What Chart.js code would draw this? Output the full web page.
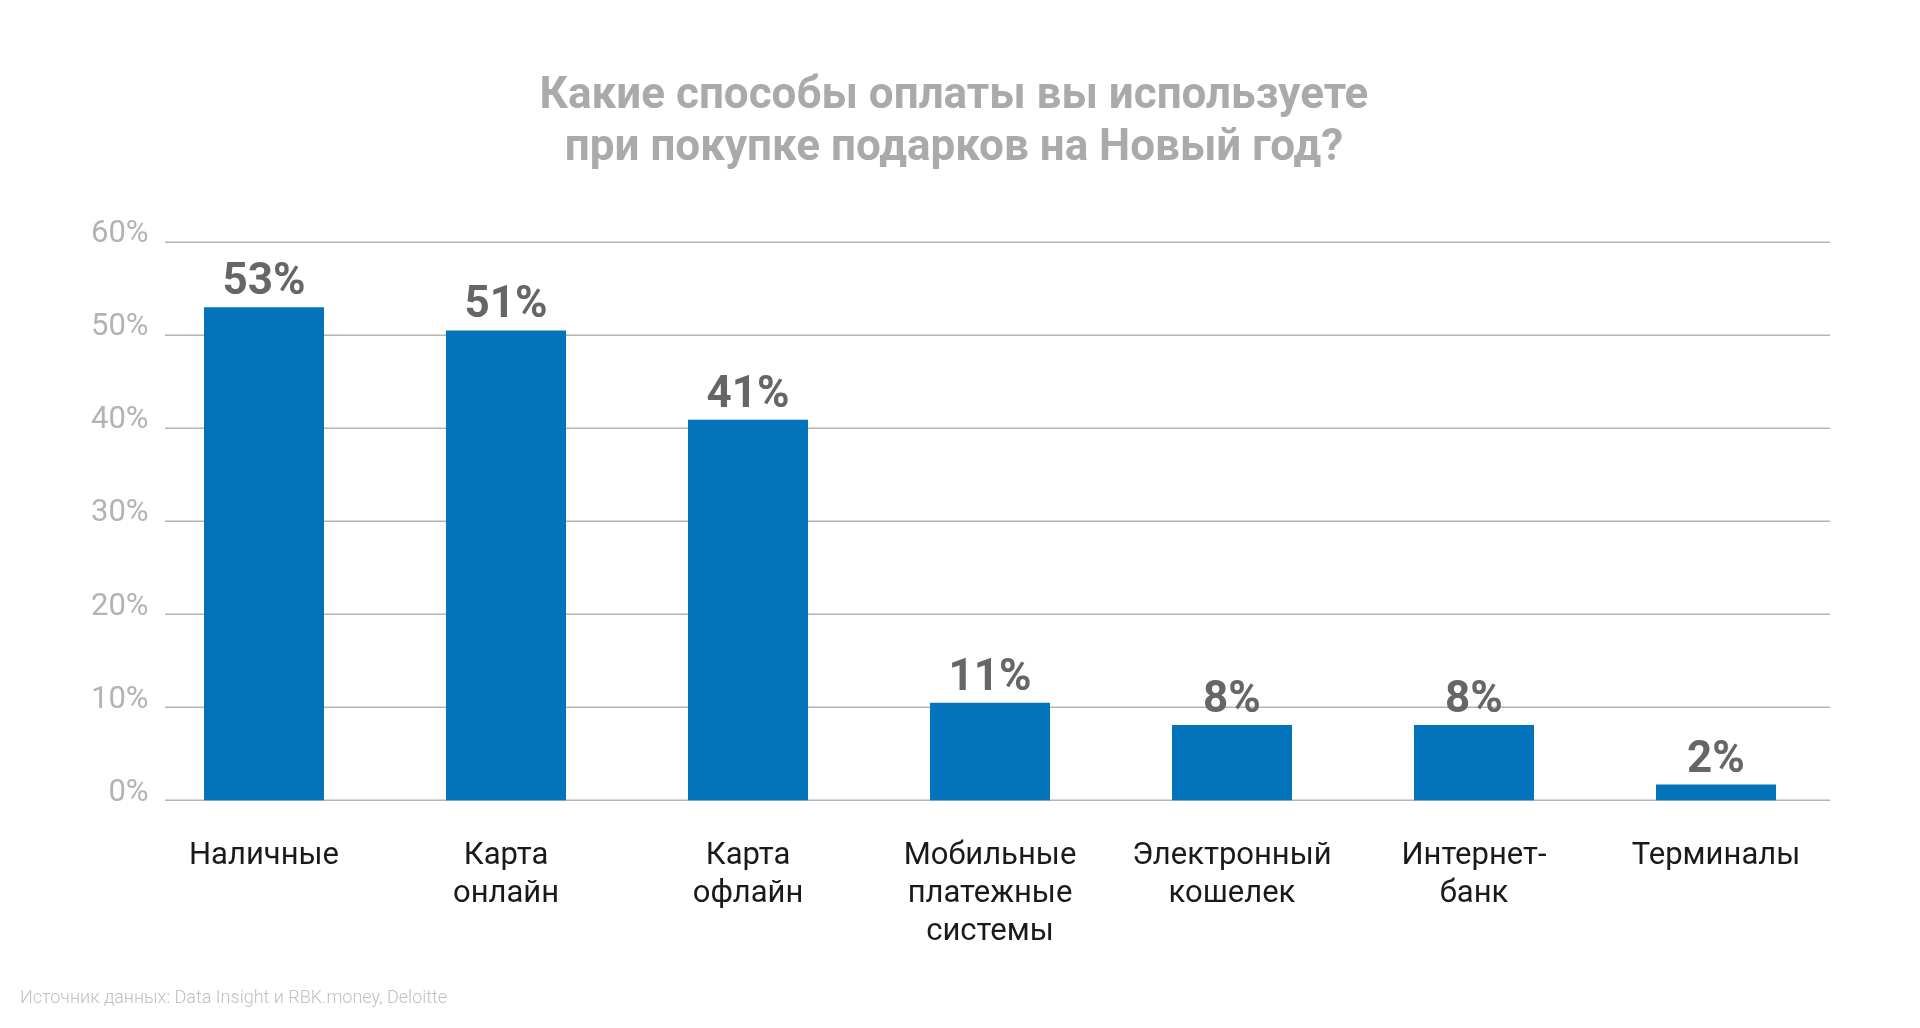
<!DOCTYPE HTML>
<html>
<head>
  <meta charset="utf-8">
  <script src="https://cdn.jsdelivr.net/npm/chart.js"></script>
  <style>
    html, body { margin: 0; padding: 0; background: #ffffff; }
    #wrap { width: 1920px; height: 1028px; }
  </style>
</head>
<body>
  <div id="wrap"><canvas id="payChart" width="1920" height="1028"></canvas></div>

  <script>
    // Categories (multi-line x labels)
    var categories = [
      ['Наличные'],
      ['Карта', 'онлайн'],
      ['Карта', 'офлайн'],
      ['Мобильные', 'платежные', 'системы'],
      ['Электронный', 'кошелек'],
      ['Интернет-', 'банк'],
      ['Терминалы']
    ];
    // Bar heights, in percent
    var shares = [53, 50.5, 40.9, 10.5, 8.1, 8.1, 1.7];
    // Printed labels above the bars
    var shareLabels = [53, 51, 41, 11, 8, 8, 2];
    // Y axis ticks
    var yMin = 0, yMax = 60, yStep = 10;

    // gridlines drawn under the bars, a bit inset from the category area
    var insetGrid = {
      id: 'insetGrid',
      beforeDatasetsDraw: function(chart) {
        var ctx = chart.ctx, area = chart.chartArea, y = chart.scales.y;
        ctx.save();
        ctx.strokeStyle = '#b4b4b4';
        ctx.lineWidth = 1.5;
        y.ticks.forEach(function(t) {
          var py = Math.round(y.getPixelForValue(t.value)) + 0.25;
          ctx.beginPath();
          ctx.moveTo(area.left + 22, py);
          ctx.lineTo(area.right - 7, py);
          ctx.stroke();
        });
        ctx.restore();
      }
    };

    // value labels above each bar
    var barValues = {
      id: 'barValues',
      afterDatasetsDraw: function(chart) {
        var ctx = chart.ctx;
        var meta = chart.getDatasetMeta(0);
        ctx.save();
        ctx.font = 'bold 44px Roboto';
        ctx.fillStyle = '#666666';
        ctx.textAlign = 'center';
        ctx.textBaseline = 'alphabetic';
        meta.data.forEach(function(bar, i) {
          ctx.fillText(shareLabels[i] + '%', bar.x, bar.y - 13);
        });
        ctx.restore();
      }
    };

    var ctx = document.getElementById('payChart').getContext('2d');
    var myChart = new Chart(ctx, {
      type: 'bar',
      data: {
        labels: categories,
        datasets: [{
          data: shares,
          backgroundColor: '#0374bc',
          borderWidth: 0,
          categoryPercentage: 1,
          barPercentage: 0.496
        }]
      },
      options: {
        responsive: false,
        animation: false,
        layout: { padding: { left: 20, right: 32, top: 0, bottom: 0 } },
        plugins: {
          legend: { display: false },
          tooltip: { enabled: false },
          title: {
            display: true,
            text: ['Какие способы оплаты вы используете', 'при покупке подарков на Новый год?'],
            color: '#aaaaaa',
            font: { family: 'Roboto', size: 44, weight: 'bold', lineHeight: '52px' },
            padding: { top: 71, bottom: 67 }
          },
          subtitle: {
            display: true,
            position: 'bottom',
            align: 'start',
            text: 'Источник данных: Data Insight и RBK.money, Deloitte',
            color: '#c0c0c0',
            font: { family: 'Roboto', size: 18, weight: '300' },
            padding: { top: 0, bottom: 19 }
          }
        },
        scales: {
          x: {
            grid: { display: false, drawTicks: false },
            border: { display: false },
            ticks: {
              color: '#1a1a1a',
              font: { family: 'Roboto', size: 31, lineHeight: '38px' },
              padding: 36.5,
              maxRotation: 0,
              autoSkip: false
            }
          },
          y: {
            min: yMin,
            max: yMax,
            afterFit: function(scale) { scale.width = 123; },
            grid: { display: false, drawTicks: false },
            border: { display: false },
            ticks: {
              stepSize: yStep,
              color: '#b3b3b3',
              font: { family: 'Roboto', size: 31, lineHeight: '15px' },
              mirror: true,
              crossAlign: 'far',
              padding: -52,
              callback: function(v) { return [v + '%', '']; }
            }
          },
          // empty right-hand spacer so the title centres on the page
          yRight: {
            position: 'right',
            afterFit: function(scale) { scale.width = 51; },
            grid: { display: false, drawTicks: false },
            border: { display: false },
            ticks: { display: false }
          }
        }
      },
      plugins: [insetGrid, barValues]
    });
  </script>
</body>
</html>
